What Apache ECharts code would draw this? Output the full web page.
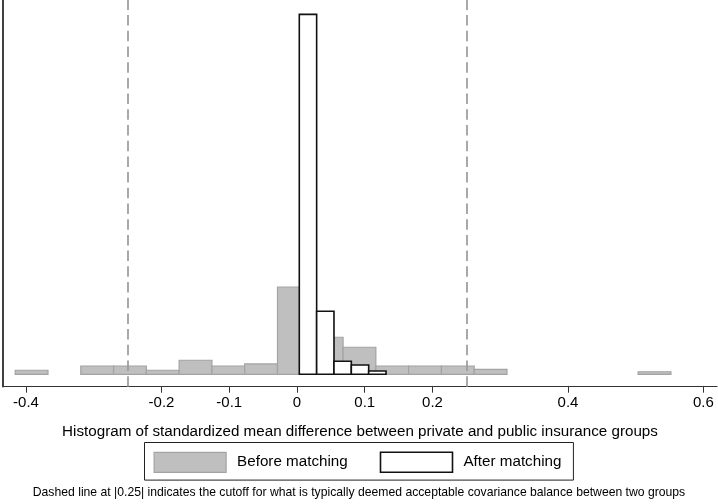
<!DOCTYPE html>
<html>
<head>
<meta charset="utf-8">
<script src="https://cdn.jsdelivr.net/npm/echarts@6/dist/echarts.min.js"></script>
<style>
html,body{margin:0;padding:0;background:#fff;}
#chart{width:718px;height:504px;}
</style>
</head>
<body>
<div id="chart"></div>
<script>
// Histogram bins: left edges, bin widths and density heights
const beforeLeft = [-0.416, -0.3192, -0.2708, -0.2224, -0.174, -0.1256, -0.0772, -0.0288, 0.0196, 0.068, 0.1164, 0.1648, 0.2132, 0.2616, 0.5036];
const beforeHeight = [0.35, 0.72, 0.72, 0.35, 1.22, 0.72, 0.90, 7.59, 3.22, 2.35, 0.72, 0.72, 0.72, 0.43, 0.22];
const beforeWidth = 0.0484;

const afterLeft = [0.0034, 0.029, 0.0546, 0.0802, 0.1058];
const afterHeight = [31.3, 5.48, 1.13, 0.81, 0.29];
const afterWidth = 0.0256;

const xTicks = [-0.4, -0.2, -0.1, 0, 0.1, 0.2, 0.4, 0.6];
const cutoffs = [-0.25, 0.25];

const xTitle = 'Histogram of standardized mean difference between private and public insurance groups';
const note = 'Dashed line at |0.25| indicates the cutoff for what is typically deemed acceptable covariance balance between two groups';
const seriesNames = ['Before matching', 'After matching'];

const beforeData = beforeLeft.map((l, i) => [l, l + beforeWidth, beforeHeight[i]]);
const afterData = afterLeft.map((l, i) => [l, l + afterWidth, afterHeight[i]]);

function makeRender(fill, stroke, lw) {
  return function (params, api) {
    const x0 = api.value(0), x1 = api.value(1), h = api.value(2);
    const p0 = api.coord([x0, 0]);
    const p1 = api.coord([x1, h]);
    return {
      type: 'rect',
      shape: { x: p0[0], y: p1[1], width: p1[0] - p0[0], height: p0[1] - p1[1] },
      style: { fill: fill, stroke: stroke, lineWidth: lw }
    };
  };
}

const chart = echarts.init(document.getElementById('chart'), null, { renderer: 'canvas' });
const FONT = 'Liberation Sans, Arial, sans-serif';
chart.setOption({
  animation: false,
  backgroundColor: '#fff',
  grid: { left: 3, top: 0, width: 714, height: 386.7 },
  xAxis: {
    type: 'value',
    min: -0.434, max: 0.62,
    axisLine: { show: true, onZero: false, lineStyle: { color: '#333', width: 1 } },
    axisTick: { show: true, customValues: xTicks, length: 6, lineStyle: { color: '#333', width: 1 } },
    axisLabel: { customValues: xTicks, color: '#000', fontSize: 15, fontFamily: FONT, margin: 9 },
    splitLine: { show: false },
    name: xTitle,
    nameLocation: 'middle',
    nameGap: 38,
    nameTextStyle: { color: '#000', fontSize: 15.2, fontFamily: FONT }
  },
  yAxis: {
    type: 'value',
    min: -1.08, max: 32.55,
    axisLine: { show: true, onZero: false, lineStyle: { color: '#000', width: 1.5 } },
    axisTick: { show: false },
    axisLabel: { show: false },
    splitLine: { show: false }
  },
  legend: {
    left: 144.5, top: 442.5,
    orient: 'horizontal',
    borderColor: '#222', borderWidth: 1,
    padding: [9, 12, 7, 9],
    itemWidth: 72, itemHeight: 20, itemGap: 32,
    textStyle: { color: '#000', fontSize: 15.2, fontFamily: FONT, padding: [0, 0, 0, 6] },
    data: [
      { name: seriesNames[0], icon: 'rect', itemStyle: { color: '#bfbfbf', borderColor: '#a3a3a3', borderWidth: 1.2 } },
      { name: seriesNames[1], icon: 'rect', itemStyle: { color: '#fff', borderColor: '#111', borderWidth: 1.6 } }
    ]
  },
  graphic: [{
    type: 'text', left: 'center', top: 487,
    style: { text: note, fill: '#000', font: '12.2px ' + FONT }
  }],
  series: [
    {
      name: seriesNames[0], type: 'custom',
      renderItem: makeRender('#bfbfbf', '#a3a3a3', 1.2),
      encode: { x: [0, 1], y: 2 },
      data: beforeData,
      itemStyle: { color: '#bfbfbf', borderColor: '#a3a3a3' }
    },
    {
      name: seriesNames[1], type: 'custom',
      renderItem: makeRender('#fff', '#111', 1.6),
      encode: { x: [0, 1], y: 2 },
      data: afterData,
      itemStyle: { color: '#fff', borderColor: '#111' },
      markLine: {
        symbol: 'none', silent: true, label: { show: false },
        lineStyle: { color: '#9a9a9a', width: 1.7, type: [10.5, 5.2] },
        data: cutoffs.map(v => ({ xAxis: v }))
      }
    }
  ]
});
</script>
</body>
</html>
